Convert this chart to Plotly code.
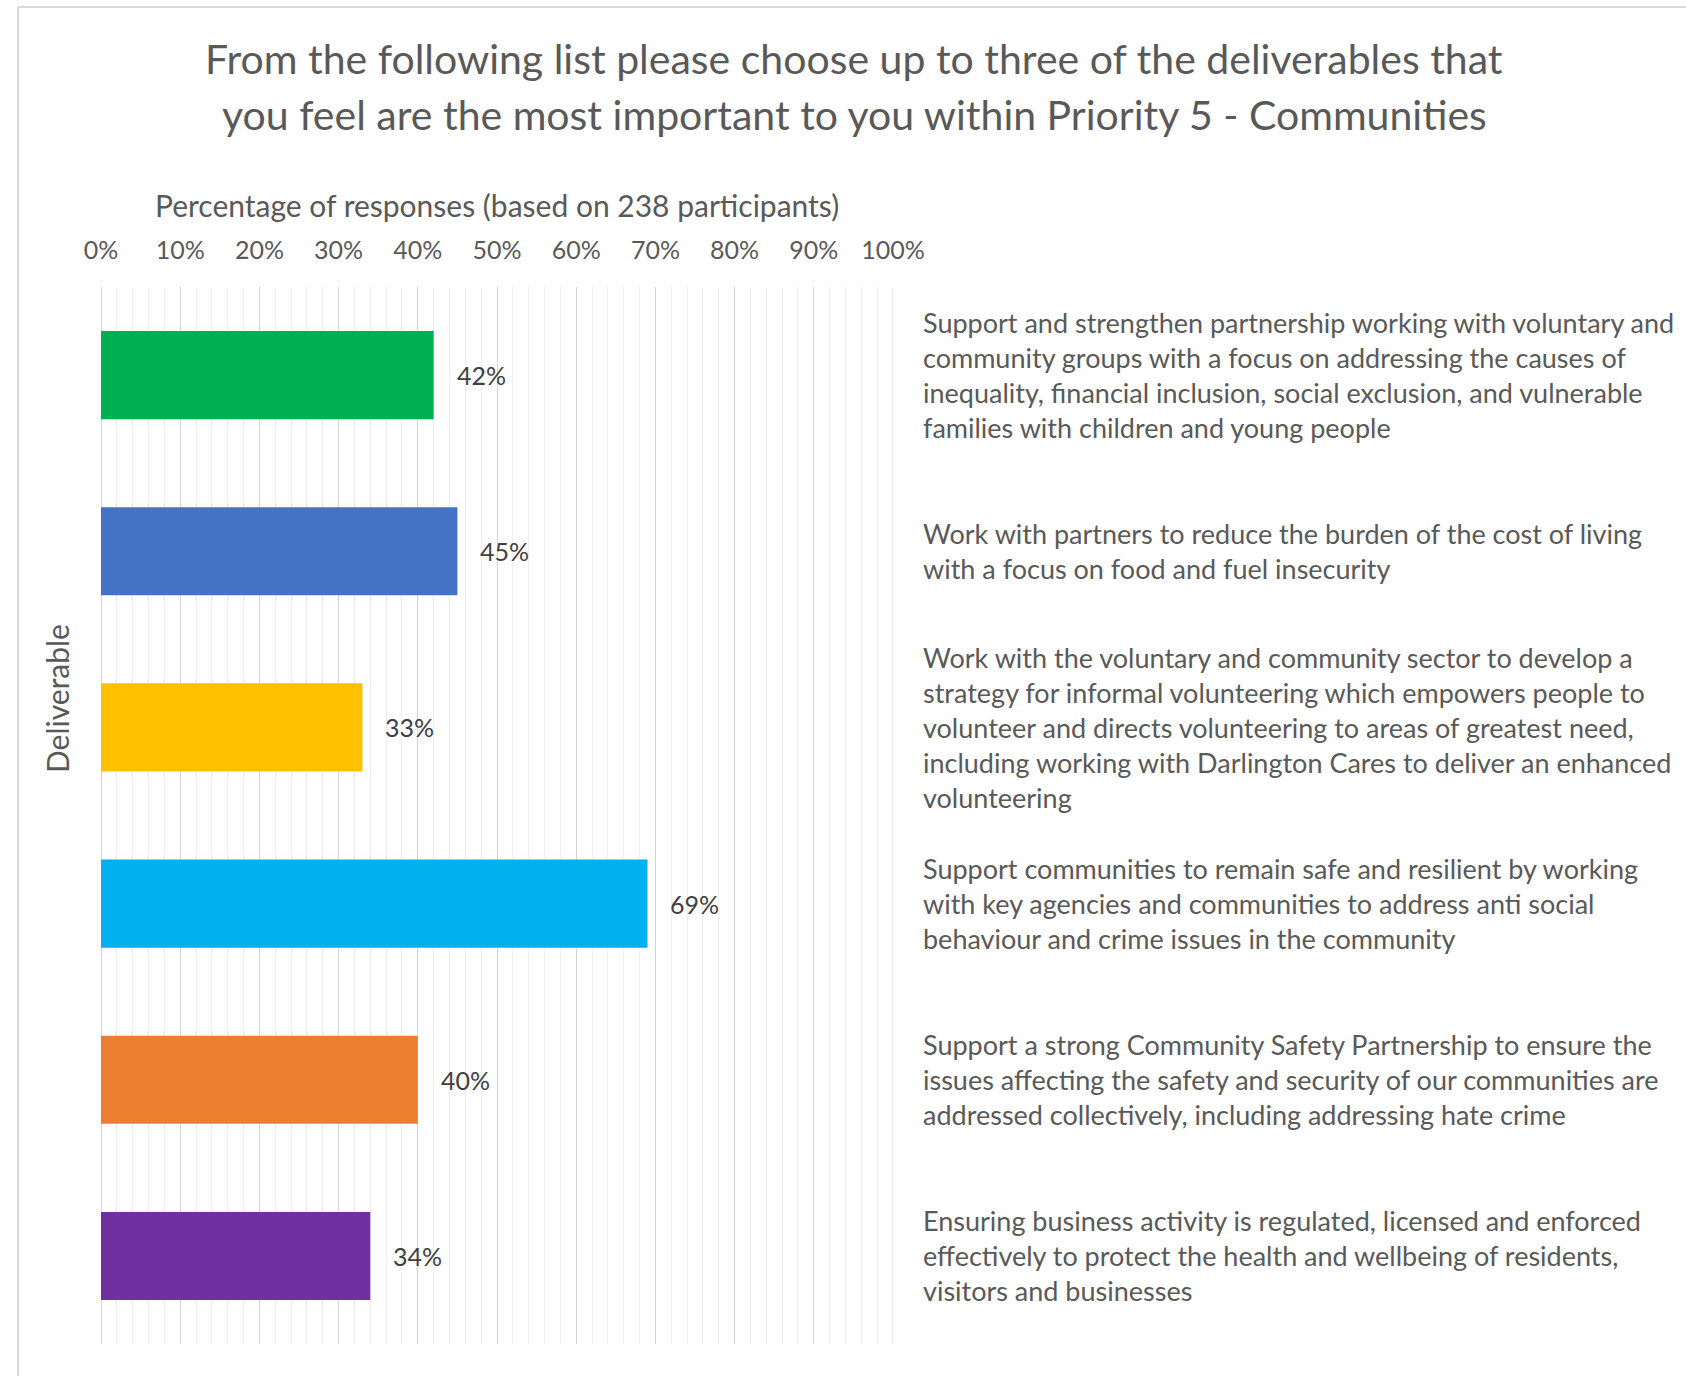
import plotly.graph_objects as go

# Survey results: share of 238 participants choosing each deliverable
label_lines = [
    ["Support and strengthen partnership working with voluntary and",
     "community groups with a focus on addressing the causes of",
     "inequality, financial inclusion, social exclusion, and vulnerable",
     "families with children and young people"],
    ["Work with partners to reduce the burden of the cost of living",
     "with a focus on food and fuel insecurity"],
    ["Work with the voluntary and community sector to develop a",
     "strategy for informal volunteering which empowers people to",
     "volunteer and directs volunteering to areas of greatest need,",
     "including working with Darlington Cares to deliver an enhanced",
     "volunteering"],
    ["Support communities to remain safe and resilient by working",
     "with key agencies and communities to address anti social",
     "behaviour and crime issues in the community"],
    ["Support a strong Community Safety Partnership to ensure the",
     "issues affecting the safety and security of our communities are",
     "addressed collectively, including addressing hate crime"],
    ["Ensuring business activity is regulated, licensed and enforced",
     "effectively to protect the health and wellbeing of residents,",
     "visitors and businesses"],
]
categories = [" ".join(lines) for lines in label_lines]
percentages = [42, 45, 33, 69, 40, 34]
bar_colors = ["#00B050", "#4472C4", "#FFC000", "#00B0F0", "#ED7D31", "#7030A0"]

title_lines = [
    "From the following list please choose up to three of the deliverables that",
    "you feel are the most important to you within Priority 5 - Communities",
]
x_title = "Percentage of responses (based on 238 participants)"
y_title = "Deliverable"

W, H = 1686, 1376
L, R, T, B = 101, 893, 287, 1344  # plot area in pixels
FONT = "Lato"
TEXT = "#595959"
GRID = "#d4d4d4"


def px(xp):
    return (xp - L) / (R - L)


def py(yp):
    return (B - yp) / (B - T)


fig = go.Figure(
    go.Bar(
        x=percentages,
        y=categories,
        orientation="h",
        marker=dict(color=bar_colors, line=dict(width=0)),
        hoverinfo="x+y",
    )
)

annotations = []
# value labels just past the end of each bar
for cat, val in zip(categories, percentages):
    annotations.append(dict(
        x=val, y=cat, xref="x", yref="y", text=f"{val}%", showarrow=False,
        xanchor="left", xshift=21, font=dict(family=FONT, size=25, color="#404040"),
    ))

# wrapped deliverable descriptions on the right, centred on each bar
line_gap = 35
for cat, lines in zip(categories, label_lines):
    n = len(lines)
    for i, ln in enumerate(lines):
        annotations.append(dict(
            x=px(921), y=cat, xref="paper", yref="y", text=ln, showarrow=False,
            xanchor="left", yanchor="middle",
            yshift=((n - 1) / 2 - i) * line_gap,
            font=dict(family=FONT, size=27, color=TEXT),
        ))

# chart title (two lines)
for i, ln in enumerate(title_lines):
    annotations.append(dict(
        x=px(854), y=py(59 + i * 56), xref="paper", yref="paper", text=ln,
        showarrow=False, xanchor="center", yanchor="middle",
        font=dict(family=FONT, size=41, color=TEXT),
    ))

# axis titles
annotations.append(dict(
    x=0.5, y=py(205), xref="paper", yref="paper", text=x_title, showarrow=False,
    xanchor="center", yanchor="middle", font=dict(family=FONT, size=30, color=TEXT),
))
annotations.append(dict(
    x=px(57), y=py(699), xref="paper", yref="paper", text=y_title, showarrow=False,
    textangle=-90, xanchor="center", yanchor="middle",
    font=dict(family=FONT, size=30, color=TEXT),
))

shapes = [
    # outer chart border (top and left edges)
    dict(type="line", xref="paper", yref="paper", x0=px(18), x1=px(W + 5),
         y0=py(7), y1=py(7), line=dict(color="#d9d9d9", width=2)),
    dict(type="line", xref="paper", yref="paper", x0=px(18), x1=px(18),
         y0=py(7), y1=py(H + 5), line=dict(color="#d9d9d9", width=2)),
    # gridline at the 100% end of the axis
    dict(type="line", xref="x", yref="paper", x0=100, x1=100, y0=0, y1=1,
         line=dict(color=GRID, width=1), layer="below"),
]

fig.update_layout(
    width=W, height=H,
    margin=dict(l=L, r=W - R, t=T, b=H - B, pad=0),
    paper_bgcolor="white", plot_bgcolor="white",
    showlegend=False,
    bargap=0.5,
    annotations=annotations,
    shapes=shapes,
    xaxis=dict(
        side="top", range=[0, 100], dtick=10, ticksuffix="%",
        showgrid=True, gridcolor=GRID, gridwidth=1,
        zeroline=True, zerolinecolor=GRID, zerolinewidth=1,
        minor=dict(dtick=2, showgrid=True, gridcolor="#eeeeee", gridwidth=1),
        ticks="outside", ticklen=17, tickcolor="rgba(0,0,0,0)",
        tickfont=dict(family=FONT, size=25, color=TEXT),
        showline=False, fixedrange=True,
    ),
    yaxis=dict(
        categoryorder="array", categoryarray=categories, autorange="reversed",
        showticklabels=False, showgrid=False, zeroline=False, showline=False,
        fixedrange=True,
    ),
)

fig.write_html("out.html")
